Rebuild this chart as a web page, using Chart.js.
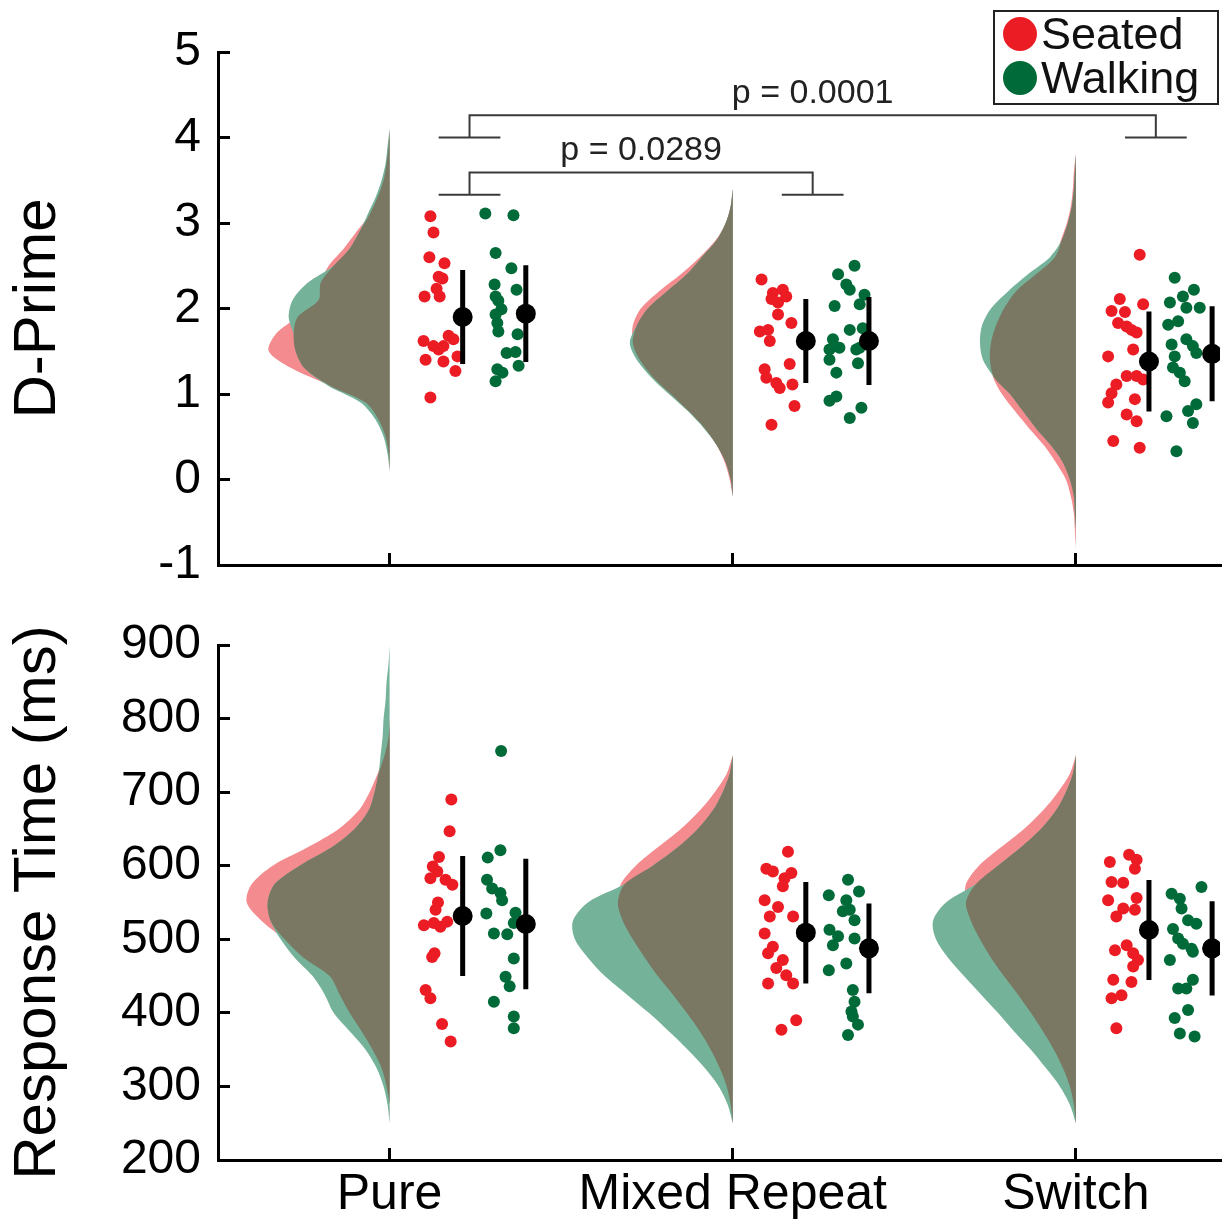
<!DOCTYPE html>
<html><head><meta charset="utf-8">
<script src="https://cdn.jsdelivr.net/npm/chart.js@4.4.1/dist/chart.umd.min.js"></script>
<style>
html,body{margin:0;padding:0;background:#fff;}
#wrap{position:relative;width:1227px;height:1222px;overflow:hidden;}
#c1{position:absolute;left:0;top:0;}
#c2{position:absolute;left:0;top:605px;}
</style></head><body>
<div id="wrap"><canvas id="c1" width="1227" height="605"></canvas><canvas id="c2" width="1227" height="617"></canvas></div>
<script>
// ---------------- DATA ----------------
const categories = ['Pure', 'Mixed Repeat', 'Switch'];
const seriesNames = ['Seated', 'Walking'];
const dprimeTicks = [-1, 0, 1, 2, 3, 4, 5];
const rtTicks = [200, 300, 400, 500, 600, 700, 800, 900];

// D-Prime individual scores per category [Pure, Mixed Repeat, Switch]
const dprimeSeated = [
  [3.08,2.89,2.60,2.53,2.37,2.35,2.23,2.14,2.14,1.62,1.56,1.68,1.64,1.56,1.52,1.44,1.40,1.38,1.27,0.96],
  [2.34,2.18,2.22,2.14,2.07,2.11,1.93,1.83,1.73,1.75,1.62,1.35,1.29,1.19,1.13,1.07,1.11,0.86,0.64],
  [2.63,2.11,2.05,1.97,1.96,1.83,1.79,1.75,1.72,1.52,1.44,1.21,1.21,1.17,1.11,1.01,0.90,0.94,0.76,0.68,0.45,0.37]
];
const dprimeSeatedJitter = [
  [0.119,0.128,0.116,0.160,0.143,0.154,0.137,0.102,0.146,0.099,0.128,0.172,0.186,0.157,0.143,0.198,0.105,0.157,0.192,0.119],
  [0.084,0.117,0.146,0.156,0.132,0.113,0.132,0.171,0.079,0.103,0.108,0.166,0.093,0.098,0.127,0.137,0.174,0.180,0.113],
  [0.186,0.128,0.196,0.104,0.143,0.123,0.148,0.162,0.177,0.167,0.094,0.148,0.177,0.196,0.118,0.104,0.094,0.172,0.148,0.177,0.109,0.186]
];
const dprimeWalking = [
  [3.11,3.09,2.65,2.47,2.28,2.22,2.14,2.09,1.99,1.93,1.83,1.73,1.70,1.48,1.49,1.33,1.29,1.25,1.15],
  [2.50,2.40,2.28,2.22,2.16,2.05,2.03,1.75,1.77,1.64,1.52,1.54,1.52,1.54,1.40,1.36,1.25,0.92,0.97,0.84,0.72],
  [2.36,2.22,2.14,2.07,2.01,2.01,1.85,1.81,1.64,1.58,1.56,1.48,1.44,1.31,1.25,1.15,0.88,0.80,0.74,0.66,0.33]
];
const dprimeWalkingJitter = [
  [0.279,0.361,0.309,0.355,0.306,0.370,0.309,0.317,0.326,0.309,0.314,0.317,0.373,0.341,0.367,0.376,0.314,0.329,0.309],
  [0.355,0.307,0.331,0.341,0.384,0.370,0.297,0.341,0.379,0.292,0.282,0.311,0.360,0.370,0.282,0.365,0.302,0.282,0.302,0.375,0.341],
  [0.288,0.344,0.312,0.274,0.322,0.361,0.298,0.269,0.322,0.279,0.341,0.351,0.288,0.283,0.303,0.317,0.351,0.327,0.264,0.341,0.293]
];
const dprimeMeanSeated = [1.90, 1.62, 1.38];
const dprimeErrSeated = [0.55, 0.49, 0.585];
const dprimeMeanWalking = [1.94, 1.62, 1.47];
const dprimeErrWalking = [0.565, 0.515, 0.555];

// D-Prime density curves (relative density at each level)
const dprimeLevels = [
  [4.1,3.9,3.7,3.5,3.3,3.1,2.9,2.7,2.5,2.3,2.1,1.9,1.7,1.5,1.3,1.1,0.9,0.7,0.5,0.3,0.1],
  [3.4,3.2,3.0,2.8,2.6,2.4,2.2,2.0,1.8,1.6,1.4,1.2,1.0,0.8,0.6,0.4,0.2,0.0,-0.2],
  [3.8,3.6,3.4,3.2,3.0,2.8,2.6,2.4,2.2,2.0,1.8,1.6,1.4,1.2,1.0,0.8,0.6,0.4,0.2,0.0,-0.2,-0.4,-0.6,-0.8]
];
const dprimeDensSeated = [
  [0,1,3,6,12,20,33,46,61,69,71,92,114,121,98,60,24,11,4,1,0],
  [0,2,7,17,33,52,74,92,100,100,93,80,62,44,28,16,8,3,0],
  [0,2,3,5,9,15,21,40,60,72,80,85,86,83,74,61,47,32,20,10,5,2,1,0]
];
const dprimeDensWalking = [
  [0,2,4,8,14,22,30,40,56,82,97,101,96,94,85,62,29,14,6,2,0],
  [0,2,7,16,31,46,66,85,96,103,96,82,64,45,29,16,7,2,0],
  [0,1,2,4,8,14,26,48,68,85,94,96,93,82,66,53,40,25,13,6,2,1,0,0]
];

// Response time (ms) individual values
const rtSeated = [
  [690,647,612,599,592,583,581,574,550,540,519,522,517,524,481,476,431,420,385,361],
  [619,596,592,590,583,572,553,544,531,531,508,490,481,472,461,451,440,440,390,377],
  [605,615,608,596,578,577,553,556,542,540,531,485,492,481,472,463,445,442,424,420,379]
];
const rtSeatedJitter = [
  [0.180,0.175,0.144,0.126,0.139,0.119,0.163,0.183,0.141,0.134,0.100,0.129,0.148,0.168,0.131,0.124,0.105,0.119,0.153,0.178],
  [0.161,0.098,0.117,0.171,0.151,0.146,0.093,0.132,0.108,0.176,0.093,0.117,0.103,0.146,0.127,0.156,0.176,0.103,0.185,0.142],
  [0.099,0.155,0.177,0.172,0.104,0.138,0.094,0.177,0.138,0.172,0.118,0.114,0.148,0.167,0.181,0.167,0.109,0.162,0.133,0.104,0.118]
];
const rtWalking = [
  [756,621,611,581,569,563,553,535,536,522,508,507,474,449,436,415,395,379],
  [581,565,560,553,538,540,526,513,504,501,492,467,458,431,415,402,395,384,370],
  [571,562,555,542,526,521,514,501,494,487,483,472,445,433,433,404,393,372,368]
];
const rtWalkingJitter = [
  [0.325,0.323,0.286,0.284,0.299,0.323,0.328,0.282,0.367,0.362,0.304,0.343,0.362,0.338,0.350,0.304,0.362,0.362],
  [0.336,0.368,0.280,0.331,0.321,0.341,0.355,0.282,0.307,0.355,0.292,0.331,0.280,0.350,0.355,0.346,0.350,0.365,0.336],
  [0.366,0.279,0.303,0.308,0.327,0.351,0.283,0.298,0.312,0.337,0.341,0.274,0.341,0.298,0.322,0.327,0.288,0.303,0.346]
];
const rtMeanSeated = [531.6, 509.0, 512.6];
const rtErrSeated = [81.6, 69, 68];
const rtMeanWalking = [520.8, 487.7, 487.7];
const rtErrWalking = [88.8, 61, 64];

const rtLevels = [
  [900,875,850,825,800,775,750,725,700,675,650,625,600,575,550,525,500,475,450,425,400,375,350,325,300,275,250],
  [750,725,700,675,650,625,600,575,550,525,500,475,450,425,400,375,350,325,300,275,250],
  [750,725,700,675,650,625,600,575,550,525,500,475,450,425,400,375,350,325,300,275,250]
];
const rtDensSeated = [
  [0,0,0,0,0,1,5,12,20,31,51,82,117,138,143,128,105,86,60,50,40,28,17,8,3,0,0],
  [0,6,18,33,52,75,97,112,115,110,100,88,75,60,46,33,22,13,6,2,0],
  [0,6,18,33,52,75,97,110,110,105,96,85,72,58,45,33,22,13,6,2,0]
];
const rtDensWalking = [
  [0,1,3,4,6,7,9,11,15,21,35,58,90,115,122,119,109,95,77,65,56,40,24,13,6,2,0],
  [0,3,10,20,35,55,80,108,145,160,158,145,128,106,84,64,45,28,14,5,0],
  [0,3,10,20,35,55,78,100,130,143,140,128,112,95,78,62,45,30,16,6,0]
];

// significance brackets (D-Prime panel)
const brackets = [
  {from: 1, to: 3, base: 4.0, top: 4.26, label: 'p = 0.0001'},
  {from: 1, to: 2, base: 3.33, top: 3.59, label: 'p = 0.0289'}
];

// ---------------- STYLE ----------------
const FONT = '"Liberation Sans", Arial, Helvetica, sans-serif';
const RED = '#ec1c24', GREEN = '#006a38';
const PINK = '#f38b8f', TEAL = '#75b29a', OLIVE = '#7a7762';
const VIOLIN_SCALE = 1 / 343.5;
const MEAN_OFFSET = [0.213, 0.397];
const LEG_OFFSET = 0.233, CAP_HALF = 0.09;
Chart.defaults.font.family = FONT;
Chart.defaults.color = '#000';

function violin(cat, levels, dens) {
  return levels.map((v, i) => ({x: cat - dens[i] * VIOLIN_SCALE, y: v}));
}
function violinDs(data, color, order) {
  return {type: 'line', data, backgroundColor: color, borderColor: color, borderWidth: 0,
    pointRadius: 0, pointHitRadius: 0, fill: 'shape', tension: 0.3, order};
}

function buildDatasets(p) {
  const ds = [];
  categories.forEach((_, c) => {
    const cat = c + 1;
    const lv = p.levels[c];
    const overlap = p.densS[c].map((d, i) => Math.min(d, p.densW[c][i]));
    ds.push(violinDs(violin(cat, lv, p.densS[c]), PINK, 30));
    ds.push(violinDs(violin(cat, lv, p.densW[c]), TEAL, 29));
    ds.push(violinDs(violin(cat, lv, overlap), OLIVE, 28));
  });
  const groups = [
    {vals: p.seated, jit: p.seatedJ, mean: p.meanS, err: p.errS, color: RED, name: seriesNames[0]},
    {vals: p.walking, jit: p.walkingJ, mean: p.meanW, err: p.errW, color: GREEN, name: seriesNames[1]}
  ];
  groups.forEach((g, gi) => {
    const pts = [];
    g.vals.forEach((arr, c) => arr.forEach((v, i) => pts.push({x: c + 1 + g.jit[c][i], y: v})));
    ds.push({type: 'scatter', label: g.name, data: pts, backgroundColor: g.color, borderWidth: 0,
      pointRadius: 6, pointHoverRadius: 6, order: 10});
    const eb = [];
    g.mean.forEach((m, c) => {
      const x = c + 1 + MEAN_OFFSET[gi];
      eb.push({x, y: m - g.err[c]}, {x, y: m + g.err[c]}, {x, y: null});
    });
    ds.push({type: 'line', data: eb, borderColor: '#000', borderWidth: 5, borderCapStyle: 'butt',
      pointRadius: 0, pointHitRadius: 0, fill: false, spanGaps: false, tension: 0, order: 3});
    ds.push({type: 'scatter', data: g.mean.map((m, c) => ({x: c + 1 + MEAN_OFFSET[gi], y: m})),
      backgroundColor: '#000', borderWidth: 0, pointRadius: 10, pointHoverRadius: 10, order: 1});
  });
  if (p.brackets) {
    const bd = [];
    p.brackets.forEach(b => {
      const xl = b.from + LEG_OFFSET, xr = b.to + LEG_OFFSET;
      bd.push({x: xl - CAP_HALF, y: b.base}, {x: xl + CAP_HALF, y: b.base}, {x: xl, y: null});
      bd.push({x: xl, y: b.base}, {x: xl, y: b.top}, {x: xr, y: b.top}, {x: xr, y: b.base}, {x: xr, y: null});
      bd.push({x: xr - CAP_HALF, y: b.base}, {x: xr + CAP_HALF, y: b.base}, {x: xr, y: null});
    });
    ds.push({type: 'line', data: bd, borderColor: '#3a3a3a', borderWidth: 2, pointRadius: 0,
      pointHitRadius: 0, fill: false, spanGaps: false, tension: 0, order: 2});
  }
  return ds;
}

const annotPlugin = {
  id: 'annot',
  afterDatasetsDraw(chart, args, opts) {
    const ctx = chart.ctx;
    if (opts.brackets) {
      const xs = chart.scales.x, ys = chart.scales.y;
      ctx.save();
      ctx.font = '34px ' + FONT;
      ctx.fillStyle = '#222';
      ctx.textAlign = 'center';
      ctx.textBaseline = 'middle';
      opts.brackets.forEach(b => {
        const xm = (b.from + b.to) / 2 + LEG_OFFSET;
        ctx.fillText(b.label, xs.getPixelForValue(xm), ys.getPixelForValue(b.top) - 22);
      });
      ctx.restore();
    }
    if (opts.legend) {
      const right = chart.chartArea.right - 2;
      const left = right - 224, top = 11, h = 93;
      ctx.save();
      ctx.fillStyle = '#fff';
      ctx.fillRect(left, top, 224, h);
      ctx.lineWidth = 2;
      ctx.strokeStyle = '#222';
      ctx.strokeRect(left, top, 224, h);
      const colors = [RED, GREEN];
      ctx.font = '45px ' + FONT;
      ctx.textAlign = 'left';
      ctx.textBaseline = 'alphabetic';
      seriesNames.forEach((n, i) => {
        const cy = top + 23 + i * 44;
        ctx.beginPath();
        ctx.fillStyle = colors[i];
        ctx.arc(left + 26, cy, 17, 0, Math.PI * 2);
        ctx.fill();
        ctx.fillStyle = '#111';
        ctx.fillText(n, left + 47, cy + 15);
      });
      ctx.restore();
    }
  }
};

function zeroPad(ax) {
  ax.paddingTop = 0; ax.paddingBottom = 0; ax.paddingLeft = 0; ax.paddingRight = 0;
}

function makeChart(canvasId, p) {
  const axisGrid = {display: true, drawOnChartArea: false, drawTicks: true, tickLength: -12,
    tickWidth: 3, tickColor: '#000', color: '#000', lineWidth: 3};
  return new Chart(document.getElementById(canvasId), {
    type: 'line',
    data: {datasets: buildDatasets(p)},
    plugins: [annotPlugin],
    options: {
      responsive: false, animation: false, devicePixelRatio: 1, events: [],
      layout: {autoPadding: false, padding: {top: p.padTop, right: 7, left: 0, bottom: 0}},
      plugins: {legend: {display: false}, tooltip: {enabled: false},
        annot: {brackets: p.brackets, legend: p.legend}},
      scales: {
        x: {type: 'linear', min: 0.5, max: 3.42,
          afterBuildTicks: ax => { ax.ticks = categories.map((_, i) => ({value: i + 1})); },
          afterFit: ax => { ax.height = p.xHeight; zeroPad(ax); },
          ticks: {autoSkip: false, maxRotation: 0, padding: 17, font: {size: 50}, color: '#000',
            callback: v => p.showX ? categories[v - 1] : ''},
          grid: axisGrid,
          border: {display: true, color: '#000', width: 3}
        },
        y: {type: 'linear', min: p.ticks[0], max: p.ticks[p.ticks.length - 1],
          afterBuildTicks: ax => { ax.ticks = p.ticks.map(v => ({value: v})); },
          afterFit: ax => { ax.width = 218; zeroPad(ax); },
          ticks: {autoSkip: false, padding: 29, font: {size: 48}, color: '#000', callback: v => String(v)},
          grid: axisGrid,
          border: {display: true, color: '#000', width: 3},
          title: {display: true, text: p.title, color: '#000', font: {size: 60}, padding: {top: 2, bottom: 0}}
        }
      }
    }
  });
}

makeChart('c1', {
  levels: dprimeLevels, densS: dprimeDensSeated, densW: dprimeDensWalking,
  seated: dprimeSeated, seatedJ: dprimeSeatedJitter, walking: dprimeWalking, walkingJ: dprimeWalkingJitter,
  meanS: dprimeMeanSeated, errS: dprimeErrSeated, meanW: dprimeMeanWalking, errW: dprimeErrWalking,
  ticks: dprimeTicks, title: 'D-Prime', showX: false, padTop: 52, xHeight: 40,
  brackets: brackets, legend: true
});
makeChart('c2', {
  levels: rtLevels, densS: rtDensSeated, densW: rtDensWalking,
  seated: rtSeated, seatedJ: rtSeatedJitter, walking: rtWalking, walkingJ: rtWalkingJitter,
  meanS: rtMeanSeated, errS: rtErrSeated, meanW: rtMeanWalking, errW: rtErrWalking,
  ticks: rtTicks, title: 'Response Time (ms)', showX: true, padTop: 40, xHeight: 62,
  brackets: null, legend: false
});
</script>
</body></html>
